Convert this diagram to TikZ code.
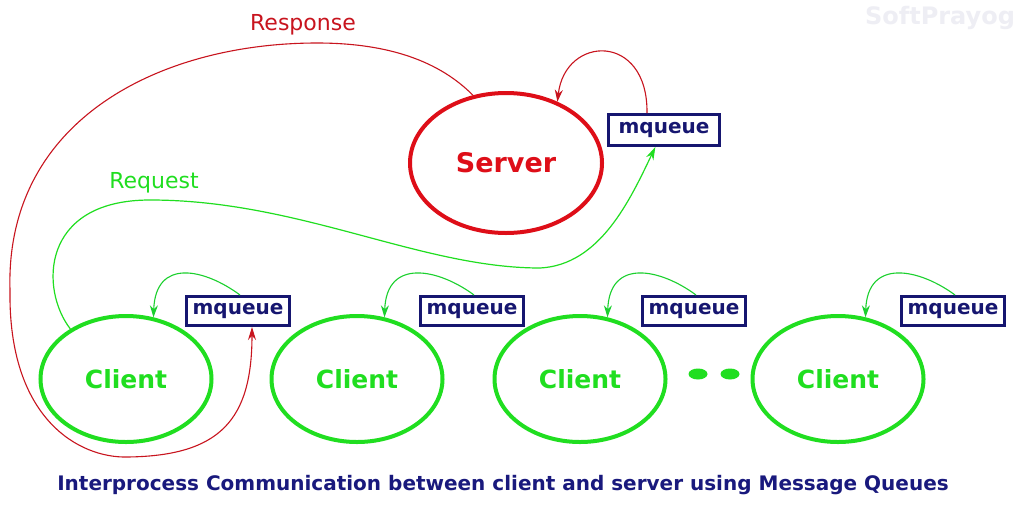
\documentclass[tikz,border=0pt]{standalone}
\usepackage{fontspec}
\setmainfont{DejaVu Sans}
\usetikzlibrary{shapes.geometric,arrows.meta,calc}
\definecolor{srvred}{RGB}{222,14,24}
\definecolor{resred}{RGB}{200,20,30}
\definecolor{grn}{RGB}{32,222,32}
\definecolor{navy}{RGB}{22,22,112}
\definecolor{capnavy}{RGB}{25,25,125}
\definecolor{wmark}{RGB}{238,238,244}
\tikzset{
  srvnode/.style={ellipse,draw=srvred,line width=4pt,minimum width=192pt,minimum height=140pt,inner sep=0pt,
    text=srvred,font=\bfseries\fontsize{27}{32}\selectfont},
  clinode/.style={ellipse,draw=grn,line width=4pt,minimum width=171pt,minimum height=126pt,inner sep=0pt,
    text=grn,font=\bfseries\fontsize{25}{30}\selectfont},
  mqbox/.style={rectangle,draw=navy,line width=3pt,minimum width=103pt,minimum height=29pt,inner sep=0pt,
    text=navy,font=\bfseries\fontsize{20}{24}\selectfont},
  dotnode/.style={ellipse,fill=grn,minimum width=19pt,minimum height=11pt,inner sep=0pt},
  resline/.style={draw=resred,line width=1.1pt,-{Stealth[length=13pt,width=8pt]}},
  reqline/.style={draw=grn,line width=1.2pt,-{Stealth[length=13pt,width=8pt]}},
  loopline/.style={draw=grn!85!teal,line width=1.1pt,-{Stealth[length=12pt,width=8pt]}},
  srvloop/.style={draw=resred,line width=1.1pt,-{Stealth[length=12pt,width=8pt]}},
  lbl/.style={font=\fontsize{22}{26}\selectfont,inner sep=0pt},
}
\begin{document}
\begin{tikzpicture}[x=1pt,y=-1pt]
\useasboundingbox[fill=white] (0,0) rectangle (1024,512);
\node[text=wmark,font=\bfseries\fontsize{24}{28}\selectfont] (wm) at (940,18) {SoftPrayog};
% server
\node[srvnode] (srv) at (506,163) {Server};
\node[mqbox,minimum width=111pt,minimum height=31pt] (smq) at (664,130) {mqueue};
% clients
\node[clinode] (c1) at (126,379) {Client};
\node[clinode] (c2) at (357,379) {Client};
\node[clinode] (c3) at (580,379) {Client};
\node[clinode] (c4) at (838,379) {Client};
\node[mqbox] (m1) at (238,311) {mqueue};
\node[mqbox] (m2) at (472,311) {mqueue};
\node[mqbox] (m3) at (694,311) {mqueue};
\node[mqbox] (m4) at (953,311) {mqueue};
\node[dotnode] (d1) at (698,374) {};
\node[dotnode] (d2) at (730,374) {};
% self loops
\draw[srvloop] (smq.135) .. controls (648,32) and (565,35) .. (srv.50);
\foreach \i in {1,2,3,4}{
  \draw[loopline] ([xshift=2pt]m\i.north) .. controls +(-35,-26) and +(2,-60) .. (c\i.66);
}
% response
\draw[resline] (srv.116) .. controls (440,62) and (390,43) .. (317,43)
  .. controls (160,43) and (5,120) .. (10,290)
  .. controls (8,420) and (80,458) .. (127,457)
  .. controls (220,456) and (252,420) .. ([xshift=14pt]m1.south);
\node[lbl,text=resred] (rl) at (303,25) {Response};
% request
\draw[reqline] (c1.138) .. controls (40,290) and (40,200) .. (150,200)
  .. controls (300,200) and (420,268) .. (540,268)
  .. controls (600,265) and (630,200) .. (smq.243);
\node[lbl,text=grn] (ql) at (154,183) {Request};
% caption
\node[text=capnavy,font=\bfseries\fontsize{20}{24}\selectfont] (cap) at (503,485) {Interprocess Communication between client and server using Message Queues};
\end{tikzpicture}
\end{document}
